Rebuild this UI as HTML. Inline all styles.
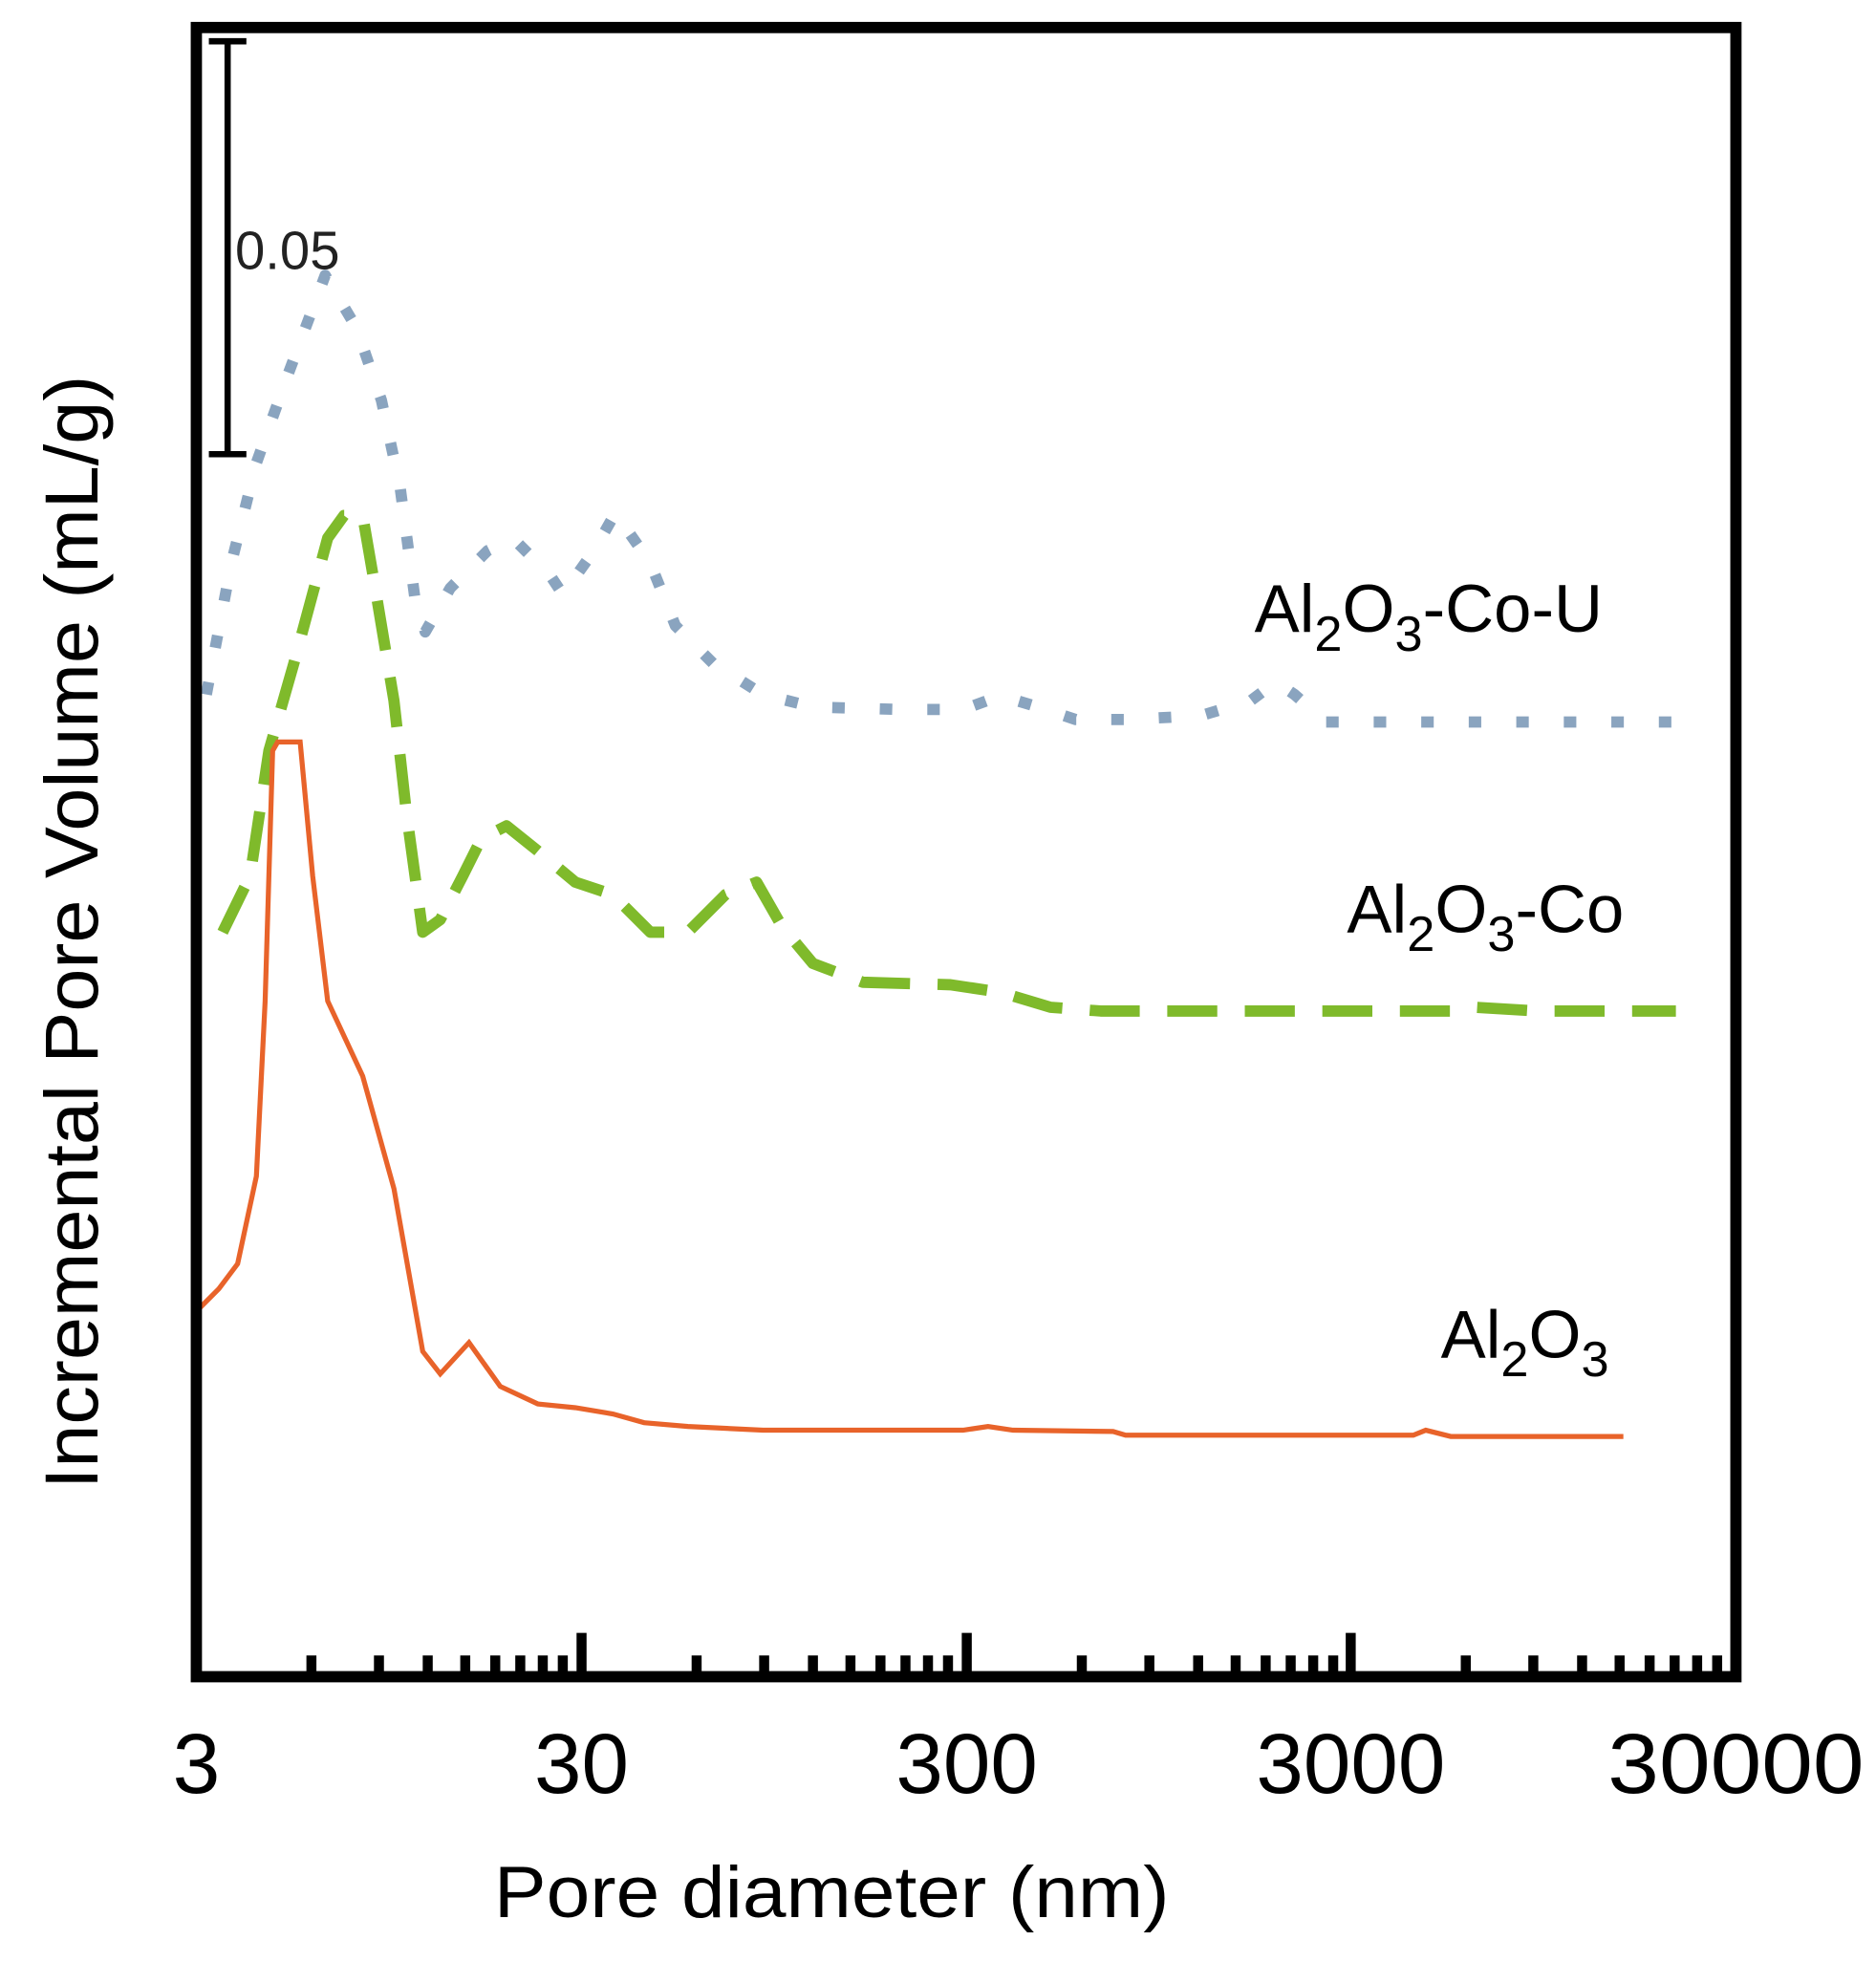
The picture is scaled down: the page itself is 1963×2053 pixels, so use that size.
<!DOCTYPE html>
<html><head><meta charset="utf-8"><style>
html,body{margin:0;padding:0;background:#fff;}
svg{display:block;}
text{font-family:"Liberation Sans",sans-serif;}
</style></head><body>
<svg width="1963" height="2053" viewBox="0 0 1500 1568" preserveAspectRatio="none" xmlns="http://www.w3.org/2000/svg">
<rect x="0" y="0" width="1500" height="1568" fill="#fff"/>
<polyline fill="none" stroke="#8aa4bf" stroke-width="9" stroke-linejoin="round" stroke-dasharray="10 28" points="165,555 185,450 205,370 230,300 260,220 285,262 305,320 320,390 332,480 340,505 360,470 390,440 410,430 440,460 450,475 475,440 492,410 520,450 540,500 570,530 610,555 650,565 720,567 770,567 800,556 830,565 860,575 900,575 960,572 1000,560 1020,545 1035,555 1060,577 1340,577"/>
<polyline fill="none" stroke="#7fba2b" stroke-width="9" stroke-linejoin="round" stroke-dasharray="40 22" points="178,745 200,700 215,600 235,530 262,430 275,412 290,412 300,470 315,560 325,650 338,745 352,735 370,700 385,670 405,660 430,680 460,705 490,715 520,745 550,745 580,715 605,705 625,740 650,770 690,785 760,787 800,793 840,805 880,808 1160,808 1180,805 1230,808 1340,808"/>
<polyline fill="none" stroke="#e8632a" stroke-width="4" points="160,1045 175,1030 190,1010 205,940 212,800 218,600 222,593 240,593 250,700 262,800 290,860 315,950 338,1080 352,1098 375,1073 400,1108 430,1122 460,1125 490,1130 515,1137 550,1140 610,1143 770,1143 790,1140 810,1143 890,1144 900,1147 1130,1147 1140,1143 1160,1148 1298,1148"/>
<rect x="157" y="22" width="1231" height="1318" fill="none" stroke="#000" stroke-width="9"/>
<g stroke="#000" stroke-width="8">
<path d="M249,1340V1323 M303,1340V1323 M342,1340V1323 M372,1340V1323 M396,1340V1323 M416,1340V1323 M434,1340V1323 M450,1340V1323 M465,1340V1305
M557,1340V1323 M611,1340V1323 M650,1340V1323 M680,1340V1323 M704,1340V1323 M724,1340V1323 M742,1340V1323 M758,1340V1323 M773,1340V1305
M865,1340V1323 M919,1340V1323 M958,1340V1323 M988,1340V1323 M1012,1340V1323 M1032,1340V1323 M1050,1340V1323 M1066,1340V1323 M1080,1340V1305
M1172,1340V1323 M1226,1340V1323 M1265,1340V1323 M1295,1340V1323 M1319,1340V1323 M1339,1340V1323 M1357,1340V1323 M1373,1340V1323"/>
</g>
<path d="M182,33V363 M167,33H197 M167,363H197" stroke="#000" stroke-width="5" fill="none"/>
<text x="188" y="215" font-size="43" fill="#222">0.05</text>
<g font-size="68" fill="#000" text-anchor="middle">
<text x="157" y="1433" textLength="38" lengthAdjust="spacingAndGlyphs">3</text>
<text x="465" y="1433">30</text>
<text x="773" y="1433">300</text>
<text x="1080" y="1433">3000</text>
<text x="1388" y="1433" textLength="205" lengthAdjust="spacingAndGlyphs">30000</text>
</g>
<text x="665" y="1532" font-size="58" text-anchor="middle" textLength="540" lengthAdjust="spacingAndGlyphs">Pore diameter (nm)</text>
<text transform="translate(78,745) rotate(-90)" font-size="60" text-anchor="middle" textLength="890" lengthAdjust="spacingAndGlyphs">Incremental Pore Volume (mL/g)</text>
<g font-size="54" fill="#000">
<text x="1003" y="505">Al<tspan font-size="40" dy="15">2</tspan><tspan dy="-15">O</tspan><tspan font-size="40" dy="15">3</tspan><tspan dy="-15">-Co-U</tspan></text>
<text x="1077" y="745">Al<tspan font-size="40" dy="15">2</tspan><tspan dy="-15">O</tspan><tspan font-size="40" dy="15">3</tspan><tspan dy="-15">-Co</tspan></text>
<text x="1152" y="1085">Al<tspan font-size="40" dy="15">2</tspan><tspan dy="-15">O</tspan><tspan font-size="40" dy="15">3</tspan></text>
</g>
</svg>
</body></html>
